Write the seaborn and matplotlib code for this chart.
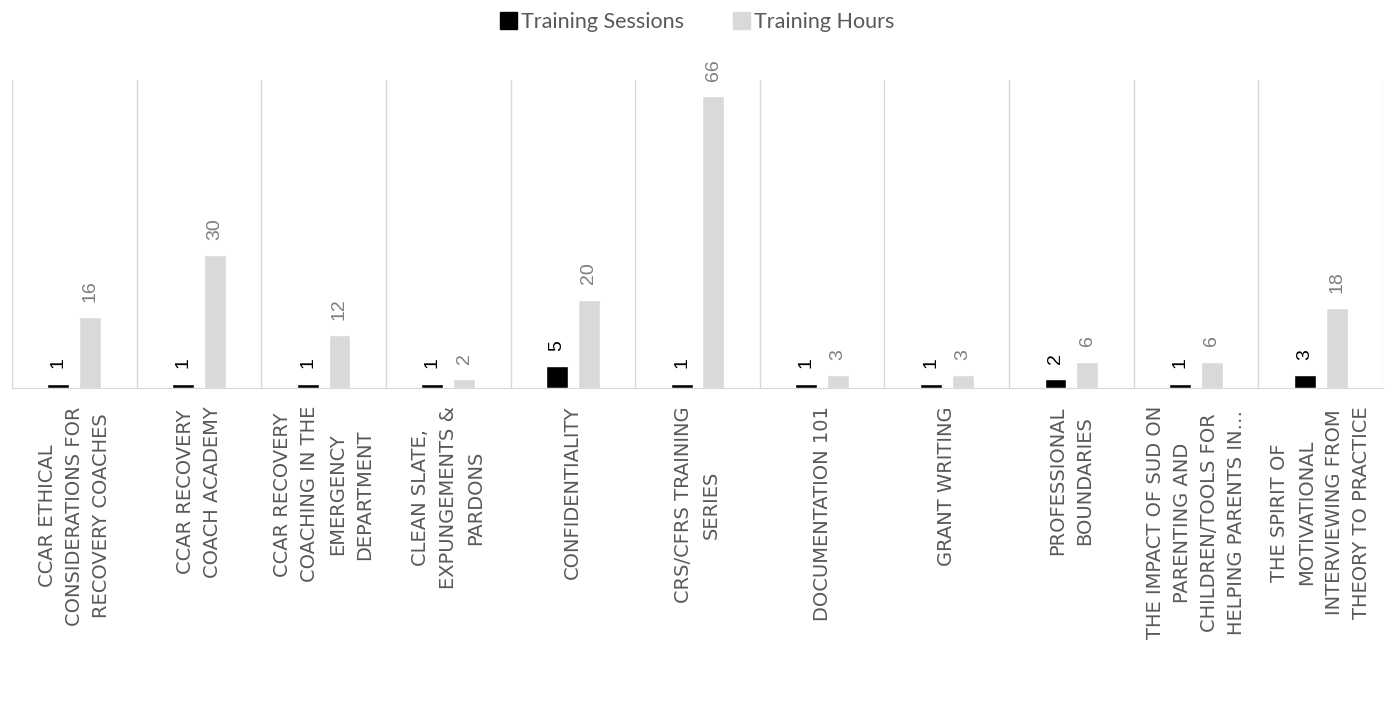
import numpy as np
import pandas as pd
import seaborn as sns
import matplotlib.pyplot as plt
from matplotlib.patches import Patch

# dane z wykresu
courses = [
    "CCAR ETHICAL\nCONSIDERATIONS FOR\nRECOVERY COACHES",
    "CCAR RECOVERY\nCOACH ACADEMY",
    "CCAR RECOVERY\nCOACHING IN THE\nEMERGENCY\nDEPARTMENT",
    "CLEAN SLATE,\nEXPUNGEMENTS &\nPARDONS",
    "CONFIDENTIALITY",
    "CRS/CFRS TRAINING\nSERIES",
    "DOCUMENTATION 101",
    "GRANT WRITING",
    "PROFESSIONAL\nBOUNDARIES",
    "THE IMPACT OF SUD ON\nPARENTING AND\nCHILDREN/TOOLS FOR\nHELPING PARENTS IN…",
    "THE SPIRIT OF\nMOTIVATIONAL\nINTERVIEWING FROM\nTHEORY TO PRACTICE",
]
sessions = [1, 1, 1, 1, 5, 1, 1, 1, 2, 1, 3]
hours = [16, 30, 12, 2, 20, 66, 3, 3, 6, 6, 18]
series = ["Training Sessions", "Training Hours"]
colors = ["#000000", "#d9d9d9"]

df = pd.DataFrame({
    "course": courses * 2,
    "value": sessions + hours,
    "series": [series[0]] * len(courses) + [series[1]] * len(courses),
})

sns.set_style("white")
plt.rcParams['font.family'] = ['DejaVu Sans']

fig = plt.figure(figsize=(13.94, 7.03), dpi=100)
ax = fig.add_axes([0.0086, 0.448, 0.9835, 0.438])

sns.barplot(data=df, x="course", y="value", hue="series", order=courses,
            hue_order=series, palette=colors, width=0.51, gap=0.31,
            saturation=1, ax=ax, legend=False)

ax.set_xlim(-0.5, len(courses) - 0.5)
ax.set_ylim(0, 69.6)
for i in range(len(courses) + 1):
    ax.axvline(i - 0.5, color="#d9d9d9", lw=1, zorder=0)

# etykiety wartosci
label_colors = ["#000000", "#7f7f7f"]
for cont, c in zip(ax.containers, label_colors):
    ax.bar_label(cont, labels=[str(int(v)) for v in cont.datavalues],
                 rotation=90, padding=11, color=c, fontsize=14,
                 family="Liberation Sans")

ax.set_xlabel("")
ax.set_ylabel("")
ax.set_yticks([])
ax.set_xticks(range(len(courses)))
ax.set_xticklabels(courses, rotation=90, fontsize=14, color="#595959",
                   multialignment="center", linespacing=1.55)
ax.tick_params(axis="x", length=0, pad=13)
for s in ["top", "left", "right"]:
    ax.spines[s].set_visible(False)
ax.spines["bottom"].set_color("#d9d9d9")

handles = [Patch(facecolor=c, edgecolor=c) for c in colors]
fig.legend(handles, series, loc="center", bbox_to_anchor=(0.5, 0.969), ncol=2,
           frameon=False, handlelength=0.8, handleheight=0.8, handletextpad=0.15,
           columnspacing=2.3, prop={"family": "Lato", "size": 15.5},
           labelcolor="#595959")

plt.savefig("out.png", dpi=100)
